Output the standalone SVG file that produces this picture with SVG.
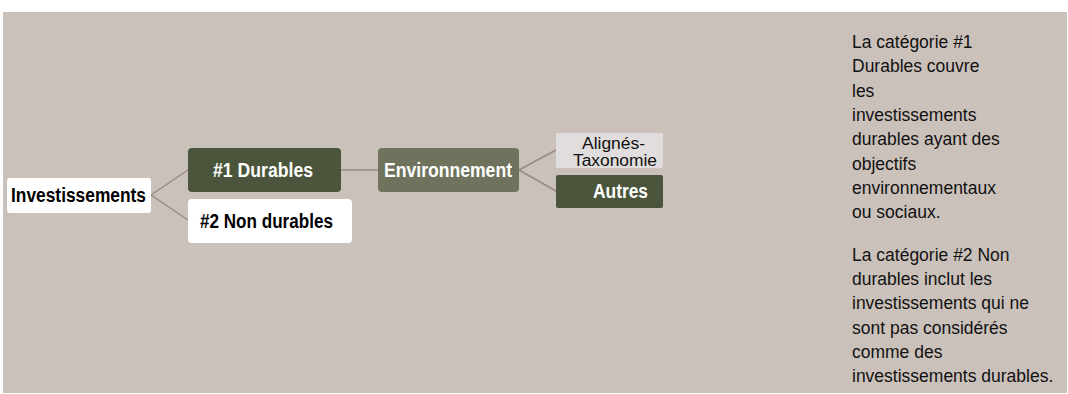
<svg xmlns="http://www.w3.org/2000/svg" width="1068" height="394" viewBox="0 0 1068 394">
<style>
.bg{fill:#CBC1BB}
.w{fill:#FFFFFF}
.dk{fill:#4A553C}
.env{fill:#6F735E}
.lt{fill:#E0DDDC}
.b{font-family:"Liberation Sans",Arial,sans-serif;font-weight:bold;font-size:20px}
.r{font-family:"Liberation Sans",Arial,sans-serif;font-size:16px;fill:#111}
.p{font-family:"Liberation Sans",Arial,sans-serif;font-size:18.5px;fill:#111}
.cn{stroke:#978B82;stroke-width:1.5;fill:none}
</style>
<rect class="bg" x="3" y="12" width="1064" height="381"/>
<g id="connectors">
<path class="cn" d="M151 195 L188 170"/>
<path class="cn" d="M151 195 L188 220"/>
<path class="cn" d="M341 170 L378 170"/>
<path class="cn" d="M519 170 L556 150"/>
<path class="cn" d="M519 170 L556 191"/>
</g>
<g id="investissements">
<rect class="w" x="7" y="178" width="144" height="35" rx="3"/>
<text class="b" x="11" y="202" fill="#000" textLength="135" lengthAdjust="spacingAndGlyphs">Investissements</text>
</g>
<g id="durables">
<rect class="dk" x="188" y="148" width="153" height="44" rx="4"/>
<text class="b" x="213" y="177" fill="#fff" textLength="100" lengthAdjust="spacingAndGlyphs">#1 Durables</text>
</g>
<g id="non-durables">
<rect class="w" x="188" y="199" width="164" height="44" rx="4"/>
<text class="b" x="200" y="228" fill="#000" textLength="133" lengthAdjust="spacingAndGlyphs">#2 Non durables</text>
</g>
<g id="environnement">
<rect class="env" x="378" y="148" width="141" height="44" rx="4"/>
<text class="b" x="384" y="177" fill="#fff" textLength="128" lengthAdjust="spacingAndGlyphs">Environnement</text>
</g>
<g id="alignes">
<rect class="lt" x="556" y="133" width="107" height="35" rx="2"/>
<text class="r" x="582" y="149" textLength="63" lengthAdjust="spacingAndGlyphs">Alignés-</text>
<text class="r" x="573" y="166" textLength="84" lengthAdjust="spacingAndGlyphs">Taxonomie</text>
</g>
<g id="autres">
<rect class="dk" x="556" y="175" width="107" height="33" rx="2"/>
<text class="b" x="593" y="198" fill="#fff" textLength="55" lengthAdjust="spacingAndGlyphs">Autres</text>
</g>
<g id="legend" transform="translate(852,0) scale(0.946,1)">
<text class="p" x="0" y="48">La catégorie #1</text>
<text class="p" x="0" y="72">Durables couvre</text>
<text class="p" x="0" y="97">les</text>
<text class="p" x="0" y="121">investissements</text>
<text class="p" x="0" y="145">durables ayant des</text>
<text class="p" x="0" y="170">objectifs</text>
<text class="p" x="0" y="194">environnementaux</text>
<text class="p" x="0" y="218">ou sociaux.</text>
<text class="p" x="0" y="261">La catégorie #2 Non</text>
<text class="p" x="0" y="285">durables inclut les</text>
<text class="p" x="0" y="309">investissements qui ne</text>
<text class="p" x="0" y="334">sont pas considérés</text>
<text class="p" x="0" y="358">comme des</text>
<text class="p" x="0" y="382">investissements durables.</text>
</g>
</svg>
